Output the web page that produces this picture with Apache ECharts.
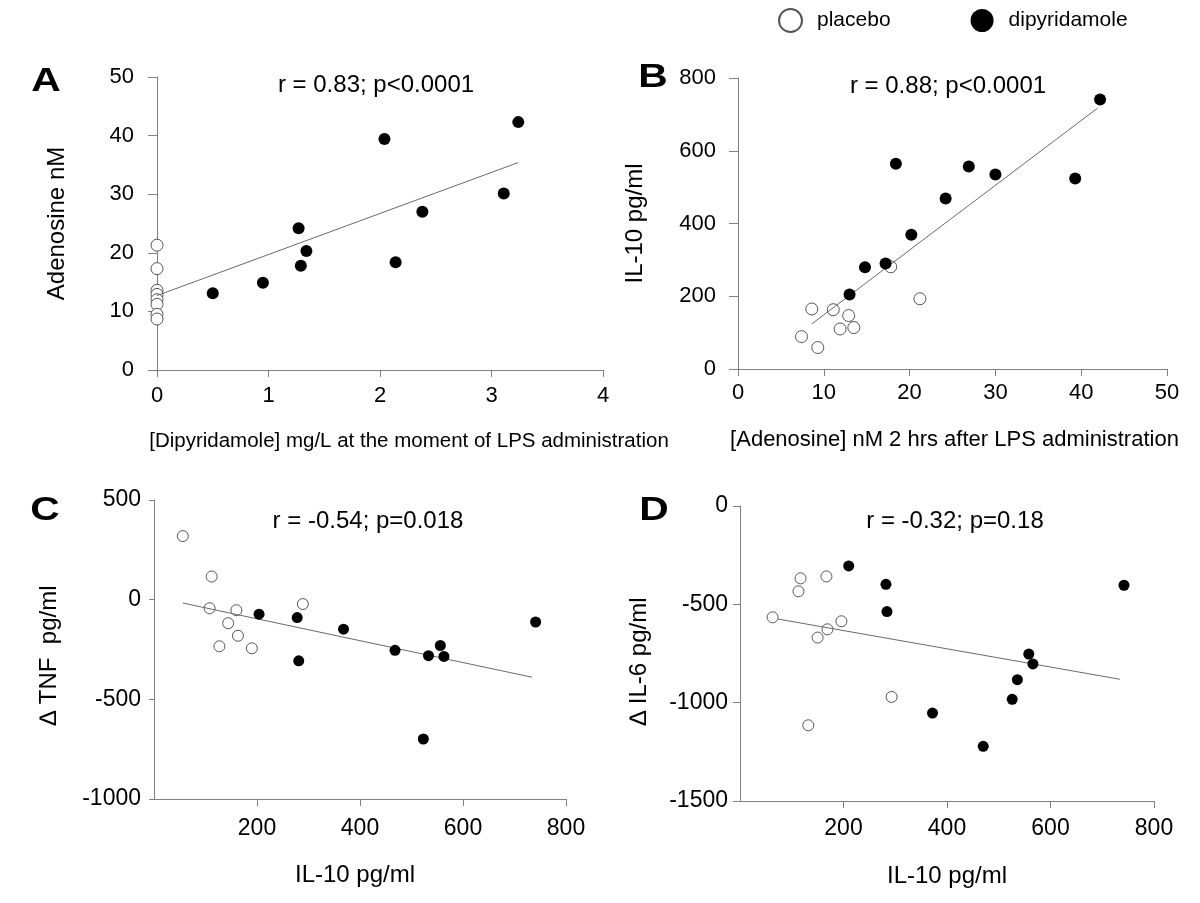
<!DOCTYPE html>
<html><head><meta charset="utf-8">
<script src="https://cdn.jsdelivr.net/npm/echarts@6/dist/echarts.min.js"></script>
<style>html,body{margin:0;padding:0;background:#fff}#c{width:1200px;height:903px}</style>
</head><body><div id="c"></div>
<script>
// ---------- DATA ----------
// Panel A: [Dipyridamole] mg/L vs Adenosine nM
const aPlaceboX = [0, 0, 0, 0, 0, 0, 0, 0];
const aPlaceboY = [21.3, 17.3, 13.6, 12.9, 12.0, 11.2, 9.5, 8.7];
const aDipyX = [0.50, 0.95, 1.27, 1.29, 1.34, 2.04, 2.14, 2.38, 3.11, 3.24];
const aDipyY = [13.1, 14.9, 24.2, 17.8, 20.3, 39.4, 18.4, 27.0, 30.1, 42.3];
const aFitX = [0, 3.24];
const aFitY = [12.7, 35.4];
// Panel B: [Adenosine] nM vs IL-10 pg/ml
const bPlaceboX = [7.4, 8.6, 9.3, 11.1, 11.9, 12.9, 13.5, 17.8, 21.2];
const bPlaceboY = [89, 165, 59, 163, 110, 147, 114, 281, 193];
const bDipyX = [13.0, 14.8, 17.2, 18.4, 20.2, 24.2, 26.9, 30.0, 39.3, 42.2];
const bDipyY = [205, 280, 290, 564, 369, 469, 557, 535, 524, 741];
const bFitX = [8.6, 41.9];
const bFitY = [124, 717];
// Panel C: IL-10 vs delta TNF
const cPlaceboX = [56, 112, 108, 160, 144, 163, 127, 190, 289];
const cPlaceboY = [319, 116, -43, -53, -118, -181, -234, -244, -22];
const cDipyX = [204, 278, 281, 368, 468, 523, 533, 556, 563, 741];
const cDipyY = [-73, -90, -307, -148, -254, -699, -281, -230, -285, -112];
const cFitX = [56, 734];
const cFitY = [-17, -389];
// Panel D: IL-10 vs delta IL-6
const dPlaceboX = [63, 117, 113, 167, 196, 169, 150, 293, 132];
const dPlaceboY = [-566, -368, -434, -358, -586, -627, -669, -971, -1115];
const dDipyX = [210, 282, 284, 372, 470, 526, 536, 558, 566, 742];
const dDipyY = [-305, -398, -537, -1053, -1222, -983, -883, -753, -803, -403];
const dFitX = [74, 734];
const dFitY = [-575, -881];

// Axis ranges [min, max, interval]
const xRanges = [[0, 4, 1], [0, 50, 10], [0, 800, 200], [0, 800, 200]];
const yRanges = [[0, 50, 10], [0, 800, 200], [-1000, 500, 500], [-1500, 0, 500]];

// Texts
const panelLetters = ['A', 'B', 'C', 'D'];
const statTexts = ['r = 0.83; p<0.0001', 'r = 0.88; p<0.0001', 'r = -0.54; p=0.018', 'r = -0.32; p=0.18'];
const xNames = ['[Dipyridamole] mg/L at the moment of LPS administration',
                '[Adenosine] nM 2 hrs after LPS administration',
                'IL-10 pg/ml', 'IL-10 pg/ml'];
const yNames = ['Adenosine nM', 'IL-10 pg/ml', '\u2206 TNF  pg/ml', '\u2206 IL-6 pg/ml'];
const groupNames = ['placebo', 'dipyridamole'];

// ---------- LAYOUT / STYLE ----------
const FONT = 'Liberation Sans, Arial, Helvetica, sans-serif';
const AX = '#808080';
const grids = [
  {left: 157, top: 77, width: 446, height: 293},
  {left: 738, top: 78, width: 429, height: 291},
  {left: 154, top: 500, width: 412, height: 299},
  {left: 740, top: 506, width: 414, height: 295}
];
const xCfg = [
  {tickFont: 22, margin: 15, nameGap: 61, nameFont: 20.5, namePad: [0, 0, 0, 58], showMin: true},
  {tickFont: 22, margin: 13, nameGap: 60, nameFont: 22, namePad: [0, 0, 0, 4], showMin: true},
  {tickFont: 23, margin: 18, nameGap: 64, nameFont: 24, namePad: [0, 10, 0, 0], showMin: false},
  {tickFont: 23, margin: 16, nameGap: 63, nameFont: 24, namePad: [0, 0, 0, 0], showMin: false}
];
const yCfg = [
  {tickFont: 22, margin: 23, tick: 9, nameGap: 88, namePad: [0, 0, 0, 0]},
  {tickFont: 22, margin: 22, tick: 9, nameGap: 91, namePad: [0, 0, 0, 0]},
  {tickFont: 23, margin: 13, tick: 5, nameGap: 93, namePad: [0, 12, 0, 0]},
  {tickFont: 23, margin: 12, tick: 7, nameGap: 89, namePad: [0, 16, 0, 0]}
];
const symSize = [12, 12, 11, 11];
const plain = v => String(v);

const zip = (xs, ys) => xs.map((x, i) => [x, ys[i]]);
const panels = [
  {p: zip(aPlaceboX, aPlaceboY), d: zip(aDipyX, aDipyY), f: zip(aFitX, aFitY)},
  {p: zip(bPlaceboX, bPlaceboY), d: zip(bDipyX, bDipyY), f: zip(bFitX, bFitY)},
  {p: zip(cPlaceboX, cPlaceboY), d: zip(cDipyX, cDipyY), f: zip(cFitX, cFitY)},
  {p: zip(dPlaceboX, dPlaceboY), d: zip(dDipyX, dDipyY), f: zip(dFitX, dFitY)}
];

const xAxis = xRanges.map((r, i) => ({
  gridIndex: i, type: 'value', min: r[0], max: r[1], interval: r[2],
  axisLine: {show: true, onZero: false, lineStyle: {color: AX, width: 1}},
  axisTick: {show: true, length: 7, lineStyle: {color: AX, width: 1}},
  splitLine: {show: false},
  axisLabel: {fontSize: xCfg[i].tickFont, fontFamily: FONT, color: '#000', margin: xCfg[i].margin,
              showMinLabel: xCfg[i].showMin, formatter: plain},
  name: xNames[i], nameLocation: 'middle', nameGap: xCfg[i].nameGap,
  nameTextStyle: {fontSize: xCfg[i].nameFont, fontFamily: FONT, color: '#000', padding: xCfg[i].namePad}
}));
const yAxis = yRanges.map((r, i) => ({
  gridIndex: i, type: 'value', min: r[0], max: r[1], interval: r[2],
  axisLine: {show: true, onZero: false, lineStyle: {color: AX, width: 1}},
  axisTick: {show: true, length: yCfg[i].tick, lineStyle: {color: AX, width: 1}},
  splitLine: {show: false},
  axisLabel: {fontSize: yCfg[i].tickFont, fontFamily: FONT, color: '#000', margin: yCfg[i].margin, formatter: plain},
  name: yNames[i], nameLocation: 'middle', nameGap: yCfg[i].nameGap,
  nameTextStyle: {fontSize: 24, fontFamily: FONT, color: '#000', padding: yCfg[i].namePad}
}));

const series = [];
panels.forEach((pn, i) => {
  series.push({
    name: groupNames[0], type: 'scatter', xAxisIndex: i, yAxisIndex: i,
    symbol: 'circle', symbolSize: symSize[i], z: 2,
    itemStyle: {color: '#ffffff', borderColor: '#555555', borderWidth: 1, opacity: 1},
    emphasis: {disabled: true}, data: pn.p
  });
  series.push({
    type: 'line', xAxisIndex: i, yAxisIndex: i, showSymbol: false, symbol: 'none', z: 3,
    silent: true, lineStyle: {color: '#6a6a6a', width: 1}, data: pn.f
  });
  series.push({
    name: groupNames[1], type: 'scatter', xAxisIndex: i, yAxisIndex: i,
    symbol: 'circle', symbolSize: symSize[i], z: 4,
    itemStyle: {color: '#000000', opacity: 1},
    emphasis: {disabled: true}, data: pn.d
  });
});

const statPos = [[376, 85], [948, 86], [368, 521], [955, 521]];
const letterPos = [[46, 82], [653, 78], [45, 511], [654, 511]];
const graphic = [];
statTexts.forEach((t, i) => graphic.push({
  type: 'text', x: statPos[i][0], y: statPos[i][1],
  style: {text: t, font: '24px ' + FONT, fill: '#000', align: 'center', verticalAlign: 'middle'}
}));
panelLetters.forEach((t, i) => graphic.push({
  type: 'text', x: letterPos[i][0], y: letterPos[i][1], scaleX: 1.2,
  style: {text: t, font: 'bold 34px ' + FONT, fill: '#000', align: 'center', verticalAlign: 'middle'}
}));

const chart = echarts.init(document.getElementById('c'), null, {renderer: 'canvas'});
chart.setOption({
  animation: false,
  backgroundColor: '#ffffff',
  textStyle: {fontFamily: FONT},
  grid: grids.map(g => Object.assign({containLabel: false}, g)),
  legend: {
    data: groupNames, left: 778, top: 8, orient: 'horizontal', icon: 'circle',
    itemWidth: 23, itemHeight: 23, itemGap: 80, padding: 0, selectedMode: false,
    textStyle: {fontSize: 21, fontFamily: FONT, color: '#000', padding: [0, 0, 0, 10]}
  },
  xAxis, yAxis, series, graphic
});
</script></body></html>
